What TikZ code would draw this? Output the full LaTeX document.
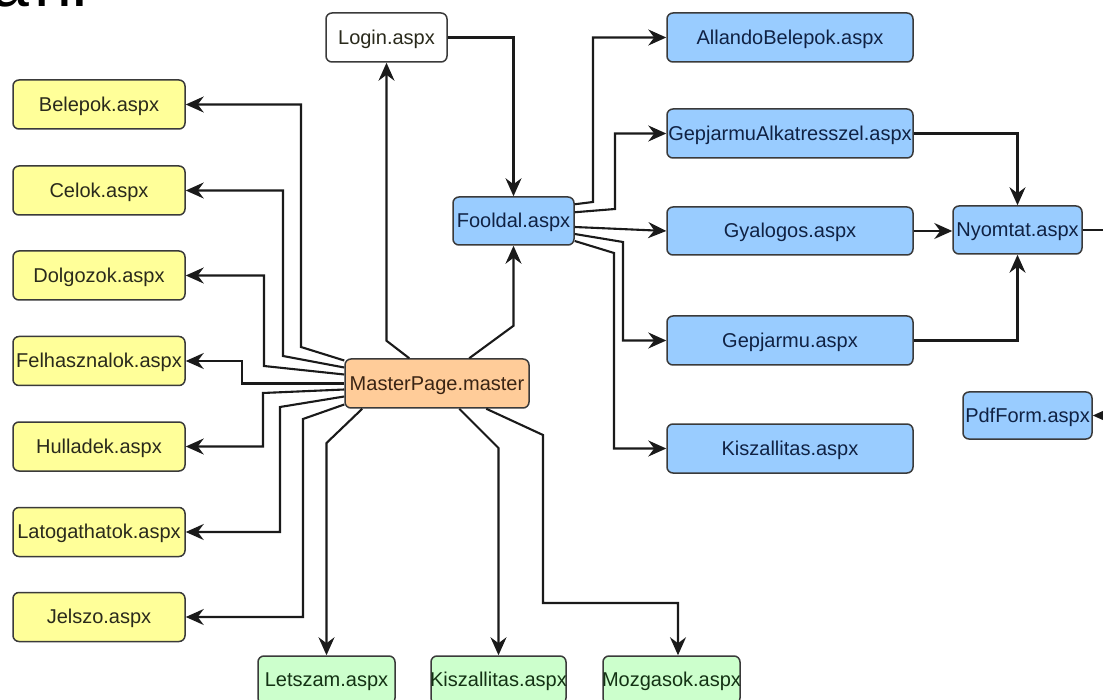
\documentclass[tikz,border=0pt]{standalone}
\usepackage{fontspec}
\setmainfont{Liberation Sans}
\usetikzlibrary{arrows.meta,calc}
\definecolor{yel}{HTML}{FFFF99}
\definecolor{blu}{HTML}{99CCFF}
\definecolor{ora}{HTML}{FFCC99}
\definecolor{gre}{HTML}{CCFFCC}
\definecolor{boxline}{HTML}{3A3A3A}
\definecolor{conn}{HTML}{1A1A1A}
\definecolor{ytext}{HTML}{2A2A1C}
\definecolor{btext}{HTML}{102244}
\definecolor{otext}{HTML}{3A2414}
\definecolor{gtext}{HTML}{143214}
\newcommand{\zw}[1]{\makebox[0pt]{\smash{#1}\vphantom{A}}}
\begin{document}
\begin{tikzpicture}[x=1pt,y=-1pt,
  box/.style={draw=boxline, line width=1.5pt, rounded corners=6pt, inner sep=0pt,
    minimum height=49pt, font=\fontsize{20}{24}\selectfont},
  wbox/.style={box, fill=white, text=ytext},
  ybox/.style={box, fill=yel, minimum width=172pt, text=ytext},
  bbox/.style={box, fill=blu, text=btext},
  obox/.style={box, fill=ora, text=otext},
  gbox/.style={box, fill=gre, minimum height=48pt, text=gtext},
  con/.style={line width=2.1pt, draw=conn},
  arr/.style={con, -{Stealth[length=18pt,width=16pt,inset=6pt]}},
]
\useasboundingbox (0,0) rectangle (1103,700);
\clip (0,0) rectangle (1103,700);
\fill[white] (0,0) rectangle (1103,700);

% cropped title
\node[anchor=base west, inner sep=0pt, font=\fontsize{68}{70}\selectfont] (title) at (-9,7) {a\kern6pt n\kern-2pt !};

% nodes
\node[wbox, minimum width=121pt] (L) at (386.5,37.5) {\zw{Login.aspx}};
\node[bbox, minimum width=121pt, minimum height=48pt] (F) at (513.5,221) {\zw{Fooldal.aspx}};
\node[obox, minimum width=184pt] (M) at (437,383.5) {\zw{MasterPage.master}};

\node[ybox] (B)  at (99,104.5) {\zw{Belepok.aspx}};
\node[ybox] (C)  at (99,190.5) {\zw{Celok.aspx}};
\node[ybox] (D)  at (99,275.5) {\zw{Dolgozok.aspx}};
\node[ybox] (Fe) at (99,361)   {\zw{Felhasznalok.aspx}};
\node[ybox] (H)  at (99,446.5) {\zw{Hulladek.aspx}};
\node[ybox] (La) at (99,532)   {\zw{Latogathatok.aspx}};
\node[ybox] (J)  at (99,617)   {\zw{Jelszo.aspx}};

\node[gbox, minimum width=137pt] (Le) at (326.5,680) {\zw{Letszam.aspx}};
\node[gbox, minimum width=135pt] (Kg) at (498.5,680) {\zw{Kiszallitas.aspx}};
\node[gbox, minimum width=137pt] (Mo) at (671.5,680) {\zw{Mozgasok.aspx}};

\node[bbox, minimum width=246pt] (A)  at (790,37.5)  {\zw{AllandoBelepok.aspx}};
\node[bbox, minimum width=246pt] (GA) at (790,133.5) {\zw{GepjarmuAlkatresszel.aspx}};
\node[bbox, minimum width=246pt, minimum height=48pt] (Gy) at (790,231) {\zw{Gyalogos.aspx}};
\node[bbox, minimum width=246pt] (Ge) at (790,340.5) {\zw{Gepjarmu.aspx}};
\node[bbox, minimum width=246pt] (Kb) at (790,448.5) {\zw{Kiszallitas.aspx}};

\node[bbox, minimum width=129pt, minimum height=48pt] (N) at (1017.5,230) {\zw{Nyomtat.aspx}};
\node[bbox, minimum width=129pt, minimum height=47pt] (P) at (1027.5,415.5) {\zw{PdfForm.aspx}};

\coordinate (offA) at (1110,230);
\coordinate (offB) at (1110,415.5);

% master connectors
\draw[arr] ($(M.north west)+(65,0)$) -- ($(L.south)+(0,278)$) -- (L.south);
\draw[arr] ($(M.north west)+(125,0)$) -- ($(F.south)+(0,80)$) -- (F.south);
\draw[arr] (L.east) -| (F.north);

\draw[arr] ($(M.west)+(0,-23)$) -- (301,347) |- (B.east);
\draw[arr] ($(M.west)+(0,-16)$) -- (283,356) |- (C.east);
\draw[arr] ($(M.west)+(0,-9)$)  -- (264,366) |- (D.east);
\draw[arr] (M.west) -- (242,383.5) |- (Fe.east);
\draw[arr] ($(M.west)+(0,6)$)   -- (263,393) |- (H.east);
\draw[arr] ($(M.west)+(0,13)$)  -- (280,407) |- (La.east);
\draw[arr] ($(M.west)+(0,21)$)  -- (303,419) |- (J.east);

\draw[arr] ($(M.south west)+(18,0)$) -- (326.5,443) -- (Le.north);
\draw[arr] ($(M.south west)+(115,0)$) -- (498.5,448) -- (Kg.north);
\draw[arr] ($(M.south west)+(142,0)$) -- (543,435) -- (543,603) -| ($(Mo.north)+(6.5,0)$);

% fooldal connectors
\draw[arr] ($(F.north east)+(0,8)$)  -- (593,202) |- (A.west);
\draw[arr] ($(F.north east)+(0,16)$) -- (615,209) |- (GA.west);
\draw[arr] ($(F.east)+(0,6)$) -- (Gy.west);
\draw[arr] ($(F.east)+(0,13)$) -- (623,242) |- (Ge.west);
\draw[arr] ($(F.east)+(0,20)$) -- (614,253) |- (Kb.west);

% right side
\draw[arr] (GA.east) -| (N.north);
\draw[arr] (Gy.east) -- (Gy.east -| N.west);
\draw[arr] (Ge.east) -| (N.south);
\draw[con] (N.east) -- (offA);
\draw[arr] (offB) -- (P.east);
\end{tikzpicture}
\end{document}
